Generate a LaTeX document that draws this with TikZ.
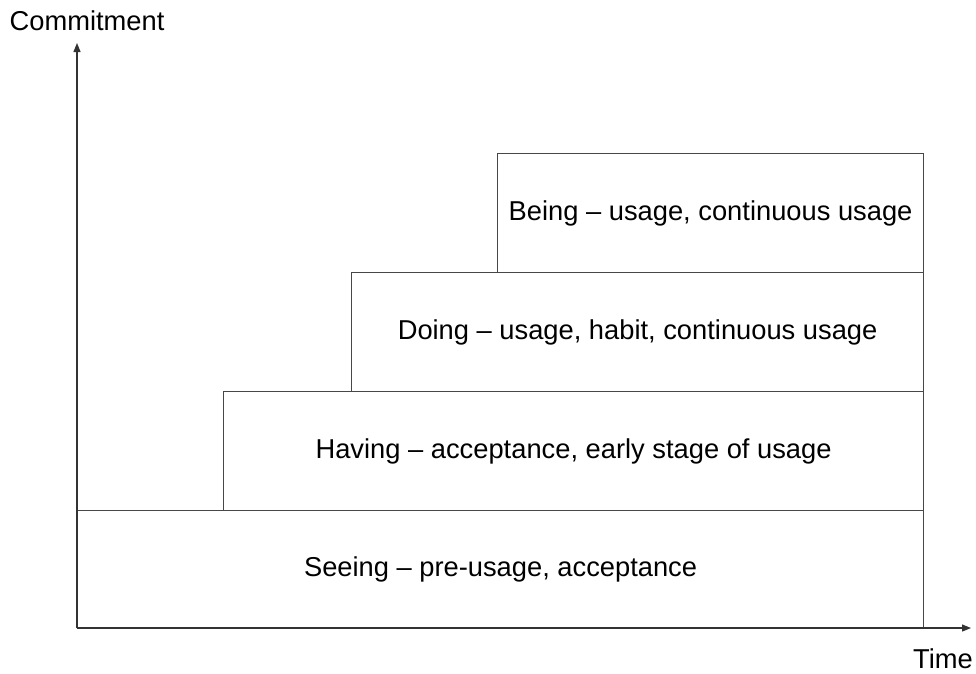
\documentclass[tikz,border=0pt]{standalone}
\usepackage{fontspec}
\setmainfont{Liberation Sans}
\usetikzlibrary{arrows.meta}
\begin{document}
\begin{tikzpicture}[x=1pt,y=-1pt,
  stage/.style={draw=black!72, line width=1.2pt, anchor=north west, inner sep=0pt, font=\fontsize{27.3}{30}\selectfont},
  axis/.style={draw=black!80, line width=1.2pt, -{Triangle[length=9pt,width=7pt]}},
  lab/.style={font=\fontsize{27.3}{30}\selectfont, inner sep=0pt, anchor=base}]
\useasboundingbox (0,0) rectangle (976,673);
\node[stage, minimum width=846pt, minimum height=118pt] (seeing) at (77,510) {Seeing -- pre-usage, acceptance};
\node[stage, minimum width=700pt, minimum height=119pt] (having) at (223,391) {Having -- acceptance, early stage of usage};
\node[stage, minimum width=572pt, minimum height=119pt] (doing) at (351,272) {Doing -- usage, habit, continuous usage};
\node[stage, minimum width=426pt, minimum height=119pt] (being) at (497,153) {Being -- usage, continuous usage};
\coordinate (origin) at (77,628);
\coordinate (ytip) at (77,43);
\coordinate (xtip) at (971,628);
\draw[axis] (origin) -- (ytip);
\draw[axis] (origin) -- (xtip);
\node[lab] (ylab) at (87,30) {Commitment};
\node[lab] (xlab) at (943,668) {Time};
\end{tikzpicture}
\end{document}
